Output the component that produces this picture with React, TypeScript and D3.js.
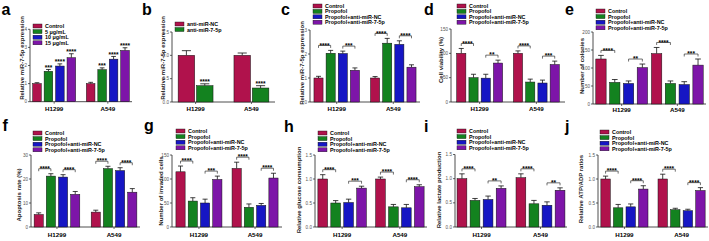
import React from "react";
import * as d3 from "d3";

const groups = ["H1299", "A549"];
const seriesA = ["Control", "5 μg/mL", "10 μg/mL", "15 μg/mL"];
const seriesB = ["anti-miR-NC", "anti-miR-7-5p"];
const seriesP = ["Control", "Propofol", "Propofol+anti-miR-NC", "Propofol+anti-miR-7-5p"];
const colors4 = ["#b0124c", "#13821f", "#1616c4", "#7d15a8"];
const colors2 = ["#b0124c", "#13821f"];

const aValues = [[1.0, 1.68, 1.97, 2.43], [1.0, 1.77, 2.35, 2.83]];
const aErrors = [[0.05, 0.1, 0.12, 0.22], [0.07, 0.1, 0.15, 0.15]];
const aStars = [["", "***", "****", "****"], ["", "***", "****", "****"]];

const bValues = [[1.0, 0.35], [1.0, 0.3]];
const bErrors = [[0.1, 0.04], [0.05, 0.05]];
const bStars = [["", "****"], ["", "****"]];

const cValues = [[1.0, 2.03, 2.02, 1.32], [1.0, 2.45, 2.4, 1.45]];
const cErrors = [[0.07, 0.12, 0.1, 0.1], [0.06, 0.2, 0.15, 0.1]];
const cStars = [["****", "***"], ["****", "****"]];

const dValues = [[100, 50, 49, 80], [100, 41, 39, 77]];
const dErrors = [[10, 7, 8, 6], [5, 6, 6, 7]];
const dStars = [["****", "**"], ["****", "***"]];

const eValues = [[125, 60, 57, 101], [140, 57, 54, 108]];
const eErrors = [[10, 8, 7, 10], [17, 7, 8, 17]];
const eStars = [["****", "**"], ["****", "***"]];

const fValues = [[5.2, 21.2, 20.8, 13.6], [6.2, 24.3, 23.5, 14.5]];
const fErrors = [[0.7, 1.0, 1.0, 1.2], [0.8, 1.0, 1.2, 1.5]];
const fStars = [["****", "****"], ["****", "****"]];

const gValues = [[115, 54, 50, 99], [122, 41, 45, 102]];
const gErrors = [[12, 7, 8, 7], [13, 7, 4, 10]];
const gStars = [["****", "***"], ["****", "****"]];

const hValues = [[1.0, 0.5, 0.51, 0.81], [1.0, 0.42, 0.4, 0.84]];
const hErrors = [[0.09, 0.05, 0.07, 0.04], [0.04, 0.05, 0.07, 0.04]];
const hStars = [["****", "***"], ["****", "****"]];

const iValues = [[1.0, 0.55, 0.57, 0.8], [1.02, 0.48, 0.45, 0.76]];
const iErrors = [[0.1, 0.04, 0.07, 0.05], [0.08, 0.07, 0.07, 0.05]];
const iStars = [["****", "**"], ["****", "**"]];

const jValues = [[1.0, 0.4, 0.42, 0.79], [1.0, 0.36, 0.34, 0.76]];
const jErrors = [[0.06, 0.07, 0.06, 0.07], [0.1, 0.03, 0.03, 0.06]];
const jStars = [["****", "****"], ["****", "****"]];

const ticks4 = [0, 1, 2, 3, 4];
const ticks3 = [0, 1, 2, 3];
const ticks15 = [0, 0.5, 1.0, 1.5];
const ticks150 = [0, 50, 100, 150];
const ticks200 = [0, 50, 100, 150, 200];
const ticks30 = [0, 10, 20, 30];

const FONT = "'Liberation Sans', Arial, Helvetica, sans-serif";

type PanelProps = {
  letter: string; letterX: number; letterY: number;
  series: string[]; colors: string[];
  values: number[][]; errors: number[][]; stars: string[][];
  bracket: boolean;
  yMax: number; yTicks: number[]; fmt: (v: number) => string;
  yLabel: string;
  x0: number; x1: number; y0: number; y1: number;
  padInner: number; padOuter: number; barPad: number;
  labelX: number; labelY: number;
  legendX: number; legendY: number; legendStep: number;
  xLabelY: number;
};

function Panel(p: PanelProps) {
  const y = d3.scaleLinear().domain([0, p.yMax]).range([p.y0, p.y1]);
  const gx = d3.scaleBand<string>().domain(groups).range([p.x0, p.x1]).paddingInner(p.padInner).paddingOuter(p.padOuter);
  const bx = d3.scaleBand<string>().domain(p.series).range([0, gx.bandwidth()]).paddingInner(p.barPad).paddingOuter(0);
  const bw = bx.bandwidth();
  const capW = bw * 0.55;
  const tops = p.values.map((row, gi) => row.map((v, si) => v + p.errors[gi][si]));
  return (
    <g fontFamily={FONT}>
      <text x={p.letterX} y={p.letterY} fontSize={16} fontWeight="bold">{p.letter}</text>
      <line x1={p.x0} x2={p.x0} y1={y(0)} y2={y(p.yMax)} stroke="#222" strokeWidth={0.8} />
      {p.yTicks.map((t) => (
        <g key={t}>
          <line x1={p.x0 - 2} x2={p.x0} y1={y(t)} y2={y(t)} stroke="#222" strokeWidth={0.7} />
          <text x={p.x0 - 3} y={y(t) + 1.6} fontSize={4.6} textAnchor="end" fill="#555">{p.fmt(t)}</text>
        </g>
      ))}
      <line x1={p.x0} x2={p.x1} y1={y(0)} y2={y(0)} stroke="#222" strokeWidth={0.8} />
      {groups.map((g) => (
        <g key={g}>
          <line x1={gx(g)! + gx.bandwidth() / 2} x2={gx(g)! + gx.bandwidth() / 2} y1={y(0)} y2={y(0) + 2} stroke="#222" strokeWidth={0.7} />
          <text x={gx(g)! + gx.bandwidth() / 2} y={p.xLabelY} fontSize={6.2} fontWeight="bold" textAnchor="middle">{g}</text>
        </g>
      ))}
      {groups.map((g, gi) =>
        p.series.map((s, si) => {
          const bxPos = gx(g)! + bx(s)!;
          const v = p.values[gi][si];
          const e = p.errors[gi][si];
          const cx = bxPos + bw / 2;
          return (
            <g key={g + s}>
              <line x1={cx} x2={cx} y1={y(v)} y2={y(v + e)} stroke="#111" strokeWidth={0.8} />
              <line x1={cx - capW / 2} x2={cx + capW / 2} y1={y(v + e)} y2={y(v + e)} stroke="#111" strokeWidth={0.8} />
              <rect x={bxPos} y={y(v)} width={bw} height={y(0) - y(v)} fill={p.colors[si]} stroke="#111" strokeWidth={0.5} />
            </g>
          );
        })
      )}
      {!p.bracket && groups.map((g, gi) =>
        p.series.map((s, si) => {
          const st = p.stars[gi][si];
          if (!st) return null;
          const cx = gx(g)! + bx(s)! + bw / 2;
          return <text key={g + s + "st"} x={cx} y={y(tops[gi][si]) + 0.5} fontSize={6.5} fontWeight="bold" textAnchor="middle">{st}</text>;
        })
      )}
      {p.bracket && groups.map((g, gi) =>
        [[0, 1], [2, 3]].map(([a, b], k) => {
          const xa = gx(g)! + bx(p.series[a])! + bw / 2;
          const xb = gx(g)! + bx(p.series[b])! + bw / 2;
          const ly = y(Math.max(tops[gi][a], tops[gi][b])) - 5;
          return (
            <g key={g + "br" + k}>
              <path d={`M${xa},${ly + 2.5}V${ly}H${xb}V${ly + 2.5}`} fill="none" stroke="#111" strokeWidth={0.6} />
              <text x={(xa + xb) / 2} y={ly + 2.2} fontSize={6.5} fontWeight="bold" textAnchor="middle">{p.stars[gi][k]}</text>
            </g>
          );
        })
      )}
      <text transform={`translate(${p.labelX},${p.labelY}) rotate(-90)`} fontSize={6} fontWeight="bold" textAnchor="middle" fill="#222">{p.yLabel}</text>
      {p.series.map((s, si) => {
        const cy = p.legendY + si * p.legendStep;
        return (
          <g key={"lg" + s}>
            <rect x={p.legendX} y={cy - 2} width={9} height={4} fill={p.colors[si]} stroke="#111" strokeWidth={0.4} />
            <text x={p.legendX + 12} y={cy + 2} fontSize={5.4} fontWeight="bold">{s}</text>
          </g>
        );
      })}
    </g>
  );
}

const f0 = (v: number) => d3.format("d")(v);
const f1 = (v: number) => d3.format(".1f")(v);

export default function App() {
  return (
    <svg width={709} height={241} style={{ position: "absolute", left: 0, top: 0, background: "#fff" }}>
      <rect width={709} height={241} fill="#fff" />
      <Panel letter="a" letterX={1.5} letterY={14.6} series={seriesA} colors={colors4} values={aValues} errors={aErrors} stars={aStars} bracket={false}
        yMax={4} yTicks={ticks4} fmt={f0} yLabel="Relative miR-7-5p expression"
        x0={30} x1={132} y0={101.7} y1={29.3} padInner={0.2} padOuter={0.05} barPad={0.25}
        labelX={23.5} labelY={58} legendX={33} legendY={26} legendStep={5.6} xLabelY={111} />
      <Panel letter="b" letterX={142} letterY={14.6} series={seriesB} colors={colors2} values={bValues} errors={bErrors} stars={bStars} bracket={false}
        yMax={1.5} yTicks={ticks15} fmt={f1} yLabel="Relative miR-7-5p expression"
        x0={172} x1={275} y0={102} y1={32} padInner={0.375} padOuter={0.11} barPad={0.1}
        labelX={165} labelY={58} legendX={175} legendY={24} legendStep={5.5} xLabelY={111} />
      <Panel letter="c" letterX={281} letterY={14.6} series={seriesP} colors={colors4} values={cValues} errors={cErrors} stars={cStars} bracket={true}
        yMax={3} yTicks={ticks3} fmt={f0} yLabel="Relative miR-7-5p expression"
        x0={310} x1={420} y0={102} y1={30} padInner={0.195} padOuter={0.07} barPad={0.25}
        labelX={303.5} labelY={63} legendX={313} legendY={6} legendStep={5.4} xLabelY={111} />
      <Panel letter="d" letterX={424} letterY={14.6} series={seriesP} colors={colors4} values={dValues} errors={dErrors} stars={dStars} bracket={true}
        yMax={150} yTicks={ticks150} fmt={f0} yLabel="Cell viability (%)"
        x0={451} x1={565} y0={102} y1={29} padInner={0.19} padOuter={0.1} barPad={0.25}
        labelX={442.5} labelY={60} legendX={457} legendY={6} legendStep={5.4} xLabelY={111} />
      <Panel letter="e" letterX={565} letterY={14.6} series={seriesP} colors={colors4} values={eValues} errors={eErrors} stars={eStars} bracket={true}
        yMax={200} yTicks={ticks200} fmt={f0} yLabel="Number of colonies"
        x0={593} x1={706} y0={104} y1={32} padInner={0.07} padOuter={0.05} barPad={0.25}
        labelX={583.5} labelY={66} legendX={596} legendY={11} legendStep={5.6} xLabelY={112} />
      <Panel letter="f" letterX={2.5} letterY={131} series={seriesP} colors={colors4} values={fValues} errors={fErrors} stars={fStars} bracket={true}
        yMax={30} yTicks={ticks30} fmt={f0} yLabel="Apoptosis rate (%)"
        x0={31} x1={140} y0={227} y1={155} padInner={0.2} padOuter={0.055} barPad={0.25}
        labelX={20.5} labelY={195} legendX={33} legendY={133} legendStep={5.6} xLabelY={237} />
      <Panel letter="g" letterX={144} letterY={131} series={seriesP} colors={colors4} values={gValues} errors={gErrors} stars={gStars} bracket={true}
        yMax={150} yTicks={ticks150} fmt={f0} yLabel="Number of invaded cells"
        x0={172} x1={282} y0={227} y1={155} padInner={0.18} padOuter={0.07} barPad={0.25}
        labelX={162.5} labelY={191} legendX={176} legendY={131} legendStep={5.6} xLabelY={237} />
      <Panel letter="h" letterX={284} letterY={132} series={seriesP} colors={colors4} values={hValues} errors={hErrors} stars={hStars} bracket={true}
        yMax={1.5} yTicks={ticks15} fmt={f1} yLabel="Relative glucose consumption"
        x0={315} x1={427} y0={227} y1={155} padInner={0.16} padOuter={0.05} barPad={0.25}
        labelX={300.5} labelY={190} legendX={318} legendY={133} legendStep={5.6} xLabelY={237} />
      <Panel letter="i" letterX={424} letterY={132} series={seriesP} colors={colors4} values={iValues} errors={iErrors} stars={iStars} bracket={true}
        yMax={1.5} yTicks={ticks15} fmt={f1} yLabel="Relative lactate production"
        x0={455} x1={567} y0={227} y1={154.5} padInner={0.17} padOuter={0.035} barPad={0.25}
        labelX={440.5} labelY={190} legendX={457} legendY={131} legendStep={5.6} xLabelY={237} />
      <Panel letter="j" letterX={565} letterY={132} series={seriesP} colors={colors4} values={jValues} errors={jErrors} stars={jStars} bracket={true}
        yMax={1.5} yTicks={ticks15} fmt={f1} yLabel="Relative ATP/ADP ratios"
        x0={598} x1={708} y0={227} y1={155} padInner={0.175} padOuter={0.05} barPad={0.25}
        labelX={582.5} labelY={189} legendX={600} legendY={132} legendStep={5.6} xLabelY={237} />
    </svg>
  );
}
